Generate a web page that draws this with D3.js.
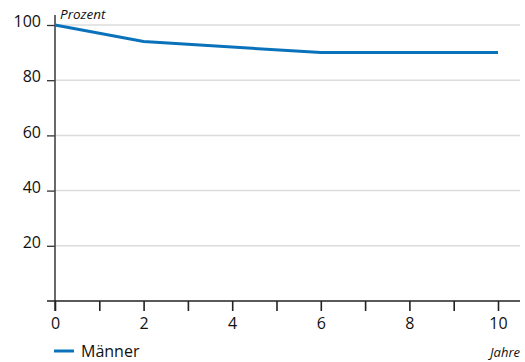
<!DOCTYPE html>
<html><head><meta charset="utf-8">
<script src="https://cdn.jsdelivr.net/npm/d3@7"></script>
<style>body{margin:0;background:#fff;} text{font-family:"Open Sans","Noto Sans",sans-serif;}</style>
</head><body>
<svg id="c" width="525" height="362"></svg>
<script>
const years = [0, 2, 6, 10];
const maenner = [100, 94, 90, 90];
const yTicks = [20, 40, 60, 80, 100];
const xTicks = [0, 1, 2, 3, 4, 5, 6, 7, 8, 9, 10];
const xLabels = [0, 2, 4, 6, 8, 10];
const seriesName = "Männer";

const svg = d3.select("#c");
const x = d3.scaleLinear().domain([0, 10]).range([55, 498]);
const y = d3.scaleLinear().domain([0, 100]).range([301, 25]);

// gridlines
svg.append("g").selectAll("line").data(yTicks).join("line")
  .attr("x1", 55).attr("x2", 520).attr("y1", d => y(d)).attr("y2", d => y(d))
  .attr("stroke", "#dcdcdc").attr("stroke-width", 1.5);

// y axis
const ya = svg.append("g").attr("transform", "translate(55,0)")
  .call(d3.axisLeft(y).tickValues(yTicks).tickSize(8).tickPadding(6).tickFormat(d3.format("d")));
ya.select(".domain").remove();
ya.selectAll(".tick line").attr("stroke", "#333").attr("stroke-width", 1.3);
ya.selectAll(".tick text").attr("font-size", 16).attr("fill", "#111")
  .attr("font-family", "'Open Sans', sans-serif").attr("dy", "0.1em");
svg.append("line").attr("x1", 55).attr("x2", 55).attr("y1", 15).attr("y2", 311)
  .attr("stroke", "#444").attr("stroke-width", 1.6);

// x axis
const xa = svg.append("g").attr("transform", "translate(0,301)")
  .call(d3.axisBottom(x).tickValues(xTicks).tickSize(10).tickFormat(d => xLabels.includes(d) ? d : ""));
xa.select(".domain").remove();
xa.selectAll(".tick line").attr("stroke", "#222").attr("stroke-width", 1.6);
xa.selectAll(".tick text").attr("font-size", 16).attr("fill", "#111")
  .attr("font-family", "'Open Sans', sans-serif").attr("dy", "0.95em");
svg.append("line").attr("x1", 47).attr("x2", 520).attr("y1", 301).attr("y2", 301)
  .attr("stroke", "#222").attr("stroke-width", 1.6);

// series line
svg.append("path").datum(years.map((d, i) => [d, maenner[i]]))
  .attr("fill", "none").attr("stroke", "#0a72ba").attr("stroke-width", 3)
  .attr("d", d3.line().x(d => x(d[0])).y(d => y(d[1])));

// labels
svg.append("text").attr("x", 60).attr("y", 19).attr("font-size", 13.5).attr("font-style", "italic")
  .attr("fill", "#111").text("Prozent");
svg.append("text").attr("x", 520).attr("y", 357).attr("text-anchor", "end").attr("font-size", 13)
  .attr("font-style", "italic").attr("fill", "#111").text("Jahre");

// legend
svg.append("line").attr("x1", 54).attr("x2", 74).attr("y1", 351).attr("y2", 351)
  .attr("stroke", "#0a72ba").attr("stroke-width", 3);
svg.append("text").attr("x", 81).attr("y", 357).attr("font-size", 16).attr("fill", "#111").text(seriesName);
</script>
</body></html>
